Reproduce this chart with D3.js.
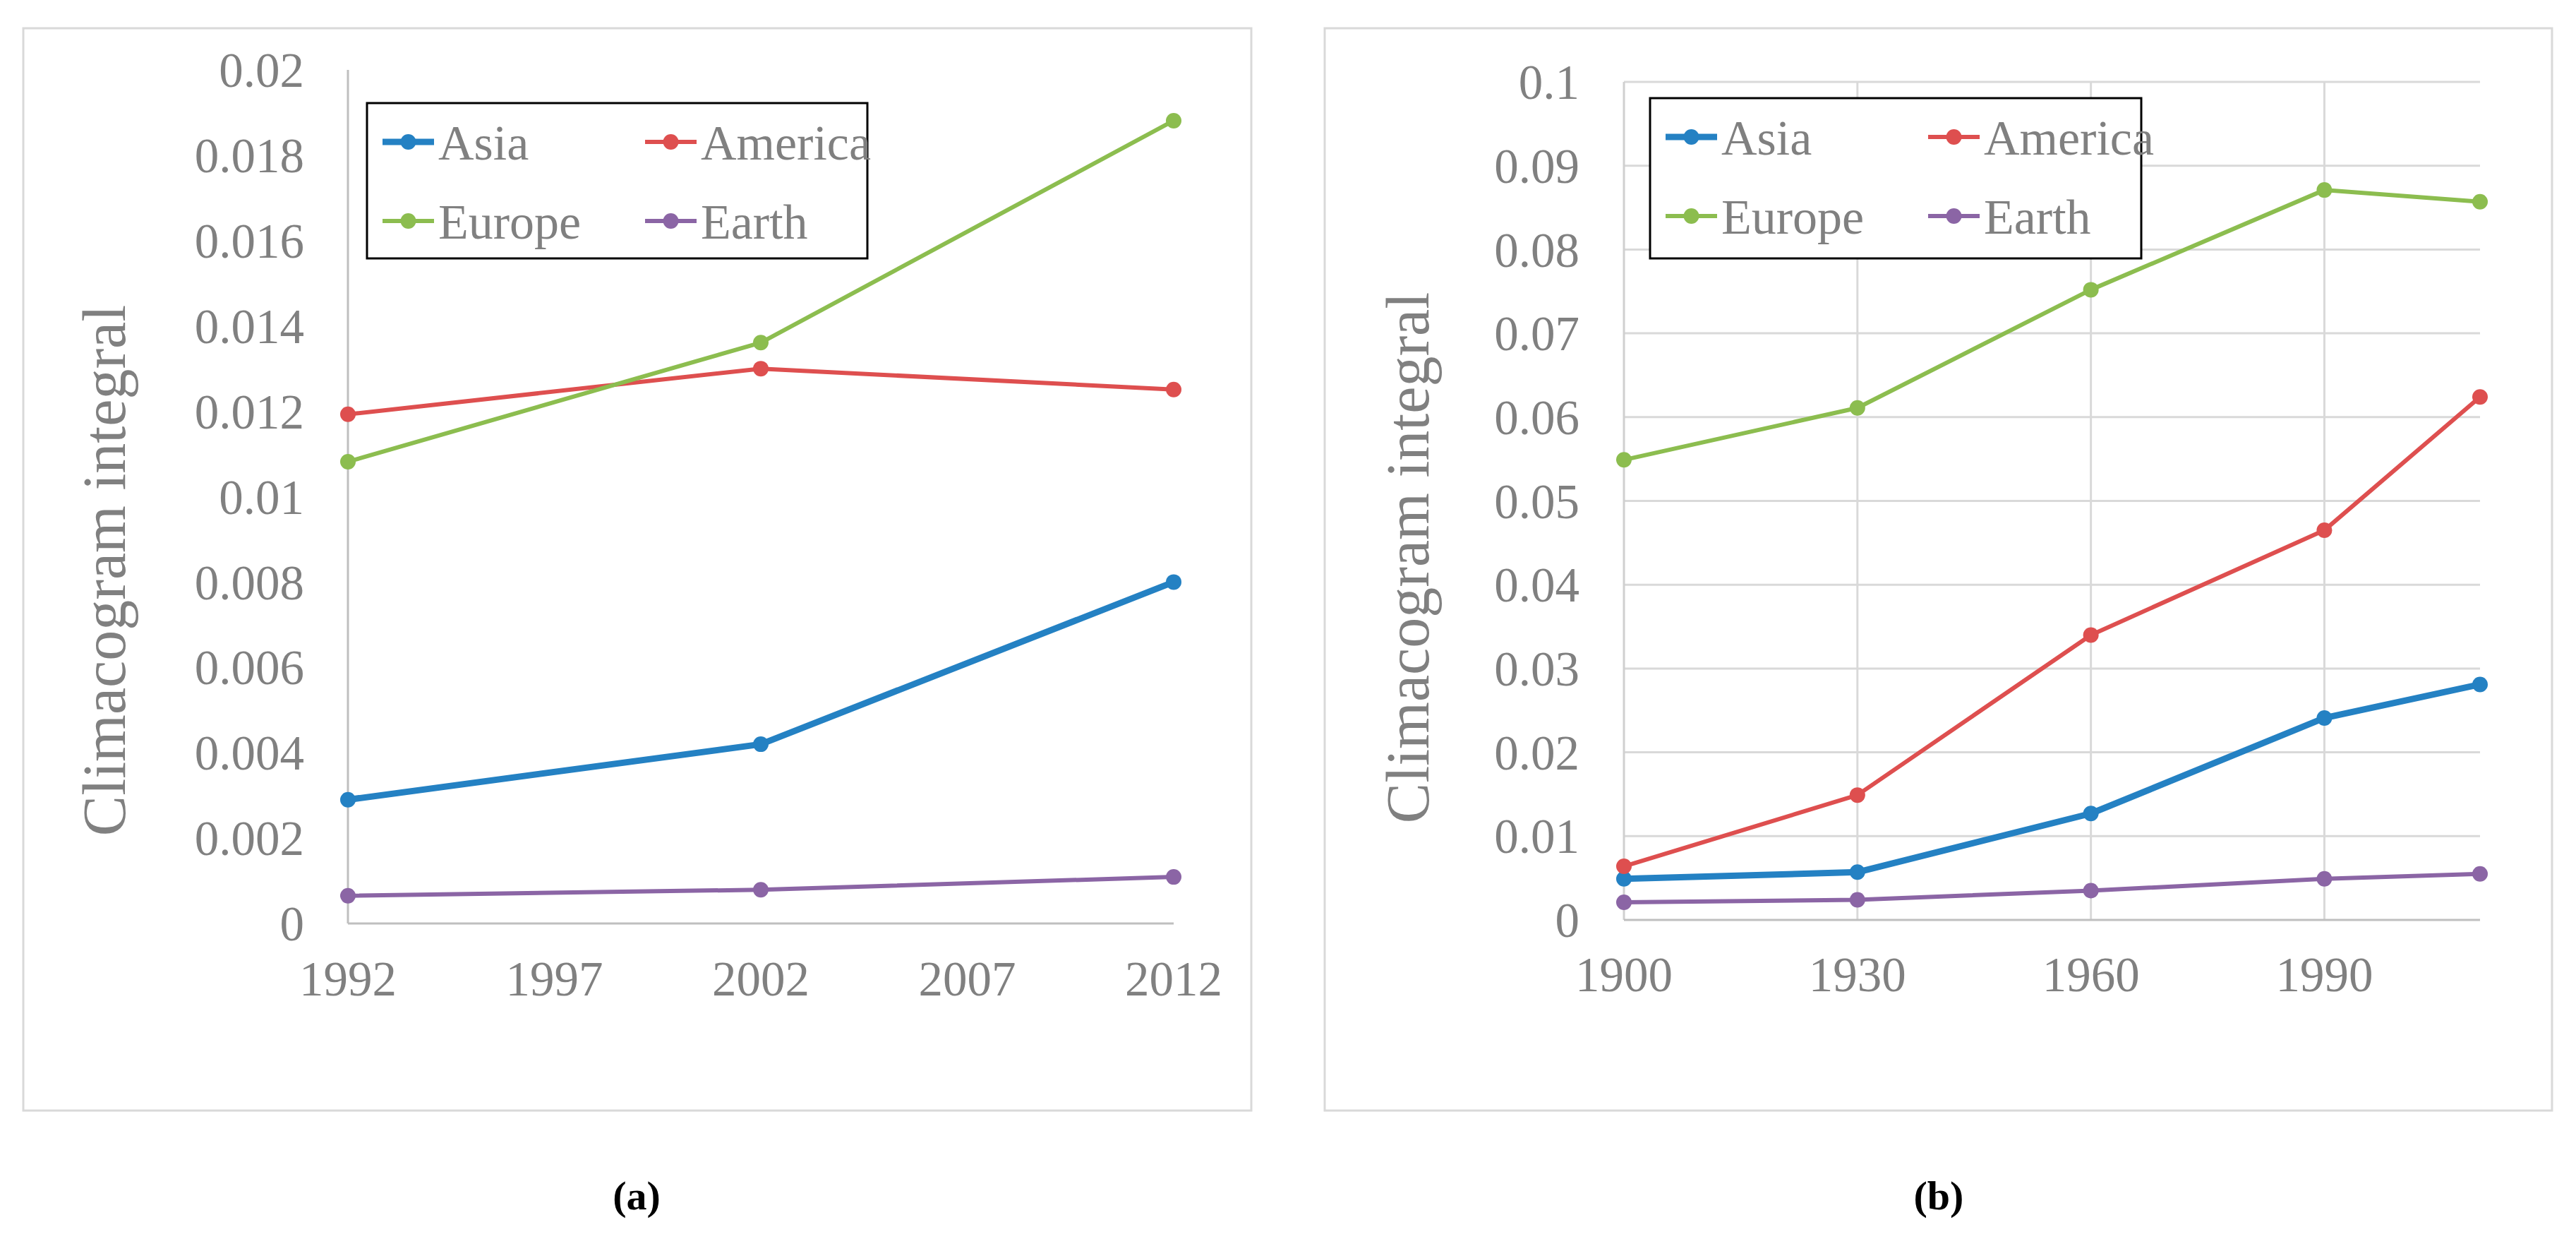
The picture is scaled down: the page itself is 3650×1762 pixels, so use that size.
<!DOCTYPE html>
<meta charset="utf-8">
<style>
body { margin: 0; background: #fff; }
svg { display: block; }
text { font-family: "Liberation Serif", "Times New Roman", serif; fill: #808080; }
.tick-label { font-size: 69px; }
.legend-label { font-size: 70px; }
.axis-title { font-size: 86px; }
.panel-label { font-size: 58px; font-weight: bold; fill: #000; }
</style>
<body>
<script src="https://d3js.org/d3.v7.min.js"></script>
<script>

// ---- data: panel (a) ----
var yearsA = [1992, 2002, 2012];
var asiaA = [0.0029, 0.0042, 0.0080];
var americaA = [0.01193, 0.0130, 0.01251];
var europeA = [0.01082, 0.01361, 0.01881];
var earthA = [0.00065, 0.00079, 0.00109];
var xTicksA = [1992, 1997, 2002, 2007, 2012];
var yTicksA = [0, 0.002, 0.004, 0.006, 0.008, 0.01, 0.012, 0.014, 0.016, 0.018, 0.02];

// ---- data: panel (b) ----
var yearsB = [1900, 1930, 1960, 1990, 2010];
var asiaB = [0.0049, 0.0057, 0.0127, 0.0241, 0.0281];
var americaB = [0.0064, 0.0149, 0.0340, 0.0465, 0.0624];
var europeB = [0.0549, 0.0611, 0.0752, 0.0871, 0.0857];
var earthB = [0.0021, 0.0024, 0.0035, 0.0049, 0.0055];
var xTicksB = [1900, 1930, 1960, 1990];
var yTicksB = [0, 0.01, 0.02, 0.03, 0.04, 0.05, 0.06, 0.07, 0.08, 0.09, 0.1];

var seriesNames = ["Asia", "America", "Europe", "Earth"];
var colors = ["#2481c3", "#de4f4f", "#8cbd4f", "#8b65a5"];
var widths = [9, 6, 6, 6];

var svg = d3.select("body").append("svg")
    .attr("width", 3650)
    .attr("height", 1762);

drawPanel({
  frame: [33, 40, 1740, 1533],
  xRange: [493, 1663], yRange: [1308, 99],
  xDomain: [1992, 2012], yDomain: [0, 0.02],
  years: yearsA, values: [asiaA, americaA, europeA, earthA],
  xTicks: xTicksA, yTicks: yTicksA, grid: false,
  yFormat: function(d) { return String(+d.toFixed(3)); },
  labelRight: 431, xLabelY: 1410,
  titleX: 147, titleY: 808,
  legend: [520, 146, 709, 220],
  tag: "(a)", tagX: 902
});

drawPanel({
  frame: [1877, 40, 1739, 1533],
  xRange: [2301, 3514], yRange: [1303, 116],
  xDomain: [1900, 2010], yDomain: [0, 0.1],
  years: yearsB, values: [asiaB, americaB, europeB, earthB],
  xTicks: xTicksB, yTicks: yTicksB, grid: true,
  yFormat: function(d) { return String(+d.toFixed(2)); },
  labelRight: 2238, xLabelY: 1404,
  titleX: 1994, titleY: 790,
  legend: [2338, 139, 696, 227],
  tag: "(b)", tagX: 2747
});

function drawPanel(o) {
  var g = svg.append("g");

  g.append("rect")
      .attr("x", o.frame[0]).attr("y", o.frame[1])
      .attr("width", o.frame[2]).attr("height", o.frame[3])
      .attr("fill", "#fff")
      .attr("stroke", "#d9d9d9")
      .attr("stroke-width", 3);

  var x = d3.scaleLinear().domain(o.xDomain).range(o.xRange);
  var y = d3.scaleLinear().domain(o.yDomain).range(o.yRange);

  if (o.grid) {
    g.selectAll(".hgrid")
        .data(o.yTicks.slice(1))
      .enter().append("line")
        .attr("x1", x(o.xDomain[0])).attr("x2", x(o.xDomain[1]))
        .attr("y1", y).attr("y2", y)
        .attr("stroke", "#d9d9d9").attr("stroke-width", 3);

    g.selectAll(".vgrid")
        .data(o.xTicks.slice(1))
      .enter().append("line")
        .attr("x1", x).attr("x2", x)
        .attr("y1", y(o.yDomain[0])).attr("y2", y(o.yDomain[1]))
        .attr("stroke", "#d9d9d9").attr("stroke-width", 3);
  }

  // axis lines
  g.append("line")
      .attr("x1", x(o.xDomain[0])).attr("x2", x(o.xDomain[0]))
      .attr("y1", y(o.yDomain[0])).attr("y2", y(o.yDomain[1]))
      .attr("stroke", o.grid ? "#d0d0d0" : "#bfbfbf").attr("stroke-width", 3);
  g.append("line")
      .attr("x1", x(o.xDomain[0])).attr("x2", x(o.xDomain[1]))
      .attr("y1", y(o.yDomain[0])).attr("y2", y(o.yDomain[0]))
      .attr("stroke", "#bfbfbf").attr("stroke-width", 3);

  g.selectAll(".ylab")
      .data(o.yTicks)
    .enter().append("text")
      .attr("class", "tick-label")
      .attr("x", o.labelRight)
      .attr("y", y)
      .attr("dy", "0.35em")
      .attr("text-anchor", "end")
      .text(o.yFormat);

  g.selectAll(".xlab")
      .data(o.xTicks)
    .enter().append("text")
      .attr("class", "tick-label")
      .attr("x", x)
      .attr("y", o.xLabelY)
      .attr("text-anchor", "middle")
      .text(function(d) { return d; });

  g.append("text")
      .attr("class", "axis-title")
      .attr("transform", "translate(" + o.titleX + "," + o.titleY + ") rotate(-90)")
      .attr("dy", "0.35em")
      .attr("text-anchor", "middle")
      .text("Climacogram integral");

  var line = d3.line()
      .x(function(d, i) { return x(o.years[i]); })
      .y(function(d) { return y(d); });

  o.values.forEach(function(vals, k) {
    g.append("path")
        .attr("d", line(vals))
        .attr("fill", "none")
        .attr("stroke", colors[k])
        .attr("stroke-width", widths[k])
        .attr("stroke-linejoin", "round");

    g.selectAll(".pt" + k)
        .data(vals)
      .enter().append("circle")
        .attr("cx", function(d, i) { return x(o.years[i]); })
        .attr("cy", y)
        .attr("r", 11)
        .attr("fill", colors[k]);
  });

  // legend
  var lg = g.append("g")
      .attr("transform", "translate(" + o.legend[0] + "," + o.legend[1] + ")");

  lg.append("rect")
      .attr("width", o.legend[2]).attr("height", o.legend[3])
      .attr("fill", "#fff")
      .attr("stroke", "#000")
      .attr("stroke-width", 3);

  var item = lg.selectAll(".item")
      .data(seriesNames)
    .enter().append("g")
      .attr("transform", function(d, i) {
        return "translate(" + (22 + (i % 2) * 372) + "," + (55 + Math.floor(i / 2) * 112) + ")";
      });

  item.append("line")
      .attr("x1", 0).attr("x2", 73)
      .attr("stroke", function(d, i) { return colors[i]; })
      .attr("stroke-width", function(d, i) { return widths[i]; });

  item.append("circle")
      .attr("cx", 36.5)
      .attr("r", 11)
      .attr("fill", function(d, i) { return colors[i]; });

  item.append("text")
      .attr("class", "legend-label")
      .attr("x", 79)
      .attr("dy", "0.35em")
      .text(function(d) { return d; });

  g.append("text")
      .attr("class", "panel-label")
      .attr("x", o.tagX)
      .attr("y", 1713)
      .attr("text-anchor", "middle")
      .text(o.tag);
}

</script>
</body>
